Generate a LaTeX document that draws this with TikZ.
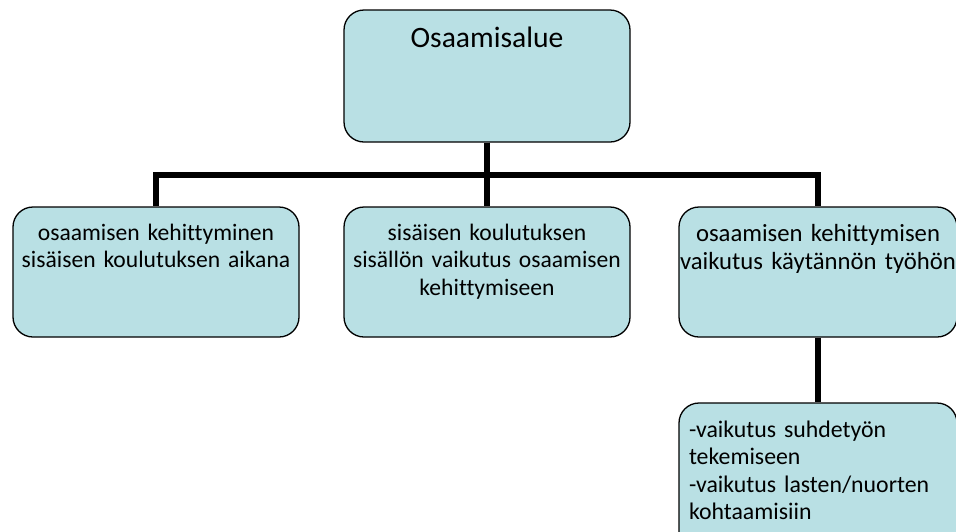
\documentclass[tikz,border=0pt]{standalone}
\usepackage{fontspec}
\setmainfont{Carlito}[Ligatures=NoCommon]
\definecolor{boxfill}{RGB}{185,224,228}
\tikzset{
  orgbox/.style={draw=black, line width=1.3pt, fill=boxfill, rounded corners=20pt,
    inner xsep=5pt, inner ysep=0pt, align=center, text width=276pt,
    text height=33pt, text depth=97pt, font=\fontsize{23.6}{27.5}\selectfont},
  rootbox/.style={orgbox, text height=37pt, text depth=95pt,
    font=\fontsize{29.6}{35}\selectfont},
  notebox/.style={orgbox, align=left, inner xsep=10pt, text width=258pt,
    text height=34pt, text depth=116pt, font=\fontsize{23.8}{27.6}\selectfont}
}
\begin{document}
\begin{tikzpicture}[level distance=196pt,
  level 1/.style={sibling distance=331pt},
  level 2/.style={level distance=206pt},
  edge from parent/.style={draw, line width=5.5pt},
  edge from parent path={(\tikzparentnode.south) -- ++(0,-32.5pt) -| (\tikzchildnode.north)}]
  \useasboundingbox (0,0) rectangle (956pt,-531pt);
  \node[rootbox] (alue) at (487pt,-76pt) {Osaamisalue}
    child {node[orgbox] (aikana) {osaamisen kehittyminen\\ sisäisen koulutuksen aikana}}
    child {node[orgbox] (sisalto) {sisäisen koulutuksen\\ sisällön vaikutus osaamisen\\ kehittymiseen}}
    child {node[orgbox, text width=278pt, inner xsep=0pt, text height=34pt, text depth=96pt,
        font=\fontsize{24.7}{28.5}\selectfont] (tyo) {osaamisen kehittymisen\\ vaikutus käytännön työhön}
      child {node[notebox] (vaikutus) {-vaikutus suhdetyön\\ tekemiseen\\ -vaikutus lasten/nuorten\\ kohtaamisiin}}
    };
\end{tikzpicture}
\end{document}
